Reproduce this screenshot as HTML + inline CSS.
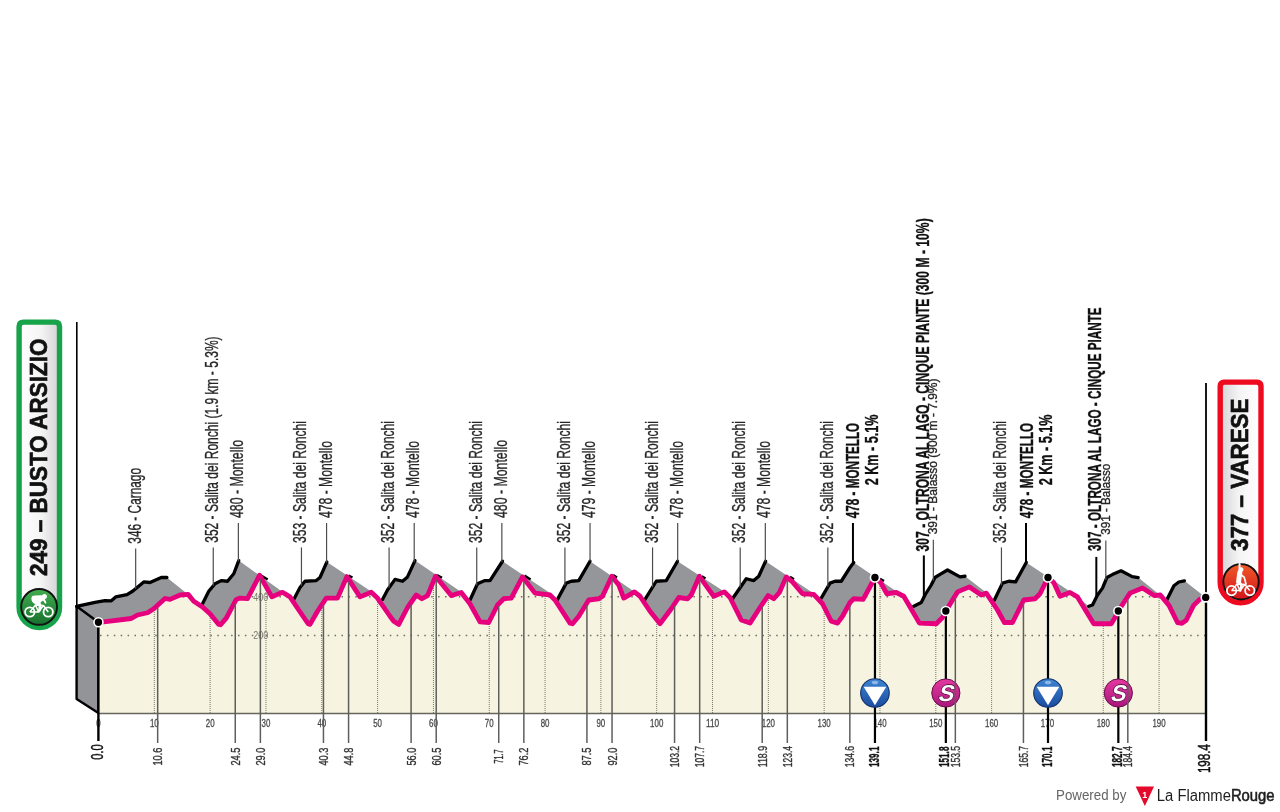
<!DOCTYPE html><html><head><meta charset="utf-8"><title>Stage profile</title><style>html,body{margin:0;padding:0;background:#fff;}svg{display:block;will-change:transform}</style></head><body>
<svg width="1280" height="812" viewBox="0 0 1280 812" font-family='"Liberation Sans", Arial, sans-serif'>
<defs><linearGradient id="gbox" x1="0" x2="1" y1="0" y2="0"><stop offset="0" stop-color="#ffffff"/><stop offset="0.55" stop-color="#f4f4f4"/><stop offset="1" stop-color="#d2d2d4"/></linearGradient><linearGradient id="rbox" x1="0" x2="1" y1="0" y2="0"><stop offset="0" stop-color="#d2d3d6"/><stop offset="0.45" stop-color="#f4f4f4"/><stop offset="1" stop-color="#ffffff"/></linearGradient><linearGradient id="gcirc" x1="0" x2="0" y1="0" y2="1"><stop offset="0" stop-color="#43ad4f"/><stop offset="1" stop-color="#16702e"/></linearGradient><linearGradient id="rcirc" x1="0" x2="0" y1="0" y2="1"><stop offset="0" stop-color="#f05a28"/><stop offset="1" stop-color="#d3141b"/></linearGradient><linearGradient id="bcirc" x1="0" x2="0" y1="0" y2="1"><stop offset="0" stop-color="#3d86d4"/><stop offset="1" stop-color="#1b4b9e"/></linearGradient><linearGradient id="pcirc" x1="0" x2="0" y1="0" y2="1"><stop offset="0" stop-color="#e4399f"/><stop offset="1" stop-color="#a9167c"/></linearGradient><clipPath id="frontclip"><polygon points="98.30,622.30 103.75,621.90 131.25,618.50 137.50,615.00 147.50,612.75 153.75,608.75 165.00,598.50 170.00,599.40 180.00,595.00 188.10,594.40 193.75,601.25 202.50,606.90 210.00,613.75 218.75,624.40 220.60,624.75 226.25,618.10 236.25,599.40 240.00,598.10 247.50,598.60 259.60,575.20 271.90,596.90 282.50,592.30 290.00,596.90 298.75,610.00 308.10,623.75 310.00,624.40 317.50,611.25 326.25,598.10 337.50,598.10 346.90,576.60 360.00,596.90 371.25,592.30 377.50,598.10 390.00,616.25 393.75,621.25 398.75,624.40 407.50,607.50 416.25,595.00 421.90,598.75 427.50,595.60 435.60,576.25 451.25,595.60 461.25,592.50 470.00,603.75 480.00,621.90 488.75,622.50 497.50,605.00 503.75,598.75 511.25,598.10 522.50,576.90 535.00,593.10 545.00,594.40 550.00,595.00 555.00,600.00 570.00,623.10 572.50,623.75 578.75,616.25 588.75,600.00 598.75,598.75 602.50,596.25 611.90,576.25 618.75,585.00 623.75,598.10 634.40,591.90 640.00,596.25 650.00,611.25 660.00,623.75 671.25,608.75 678.75,597.50 687.50,598.75 691.25,595.00 699.40,576.25 703.75,582.50 713.75,596.25 724.40,591.90 730.00,597.50 741.25,620.00 750.00,623.10 760.00,607.50 768.10,595.60 773.75,598.75 779.40,592.50 786.25,576.90 792.50,581.90 802.50,593.75 813.75,594.40 822.50,603.75 831.25,621.25 837.50,623.10 842.50,616.25 850.00,602.50 853.75,598.75 863.10,599.40 875.00,577.50 880.60,582.50 886.90,593.75 896.25,592.50 903.75,596.25 919.40,623.10 936.25,623.75 942.50,617.50 945.90,611.00 952.50,600.00 957.50,591.90 969.40,586.90 981.25,595.00 986.25,593.10 997.50,610.00 1004.40,622.50 1012.50,622.50 1023.75,600.00 1035.00,598.75 1040.00,593.75 1048.00,577.50 1053.75,582.50 1060.00,596.25 1070.00,592.50 1077.50,596.90 1093.75,623.75 1111.25,623.75 1115.00,617.50 1118.30,611.00 1126.25,598.75 1130.00,593.10 1142.50,588.00 1154.20,595.60 1160.30,595.00 1169.00,605.40 1177.60,622.70 1181.90,623.30 1186.20,620.20 1193.60,605.40 1199.80,599.30 1205.70,597.40 1205.7,713 98.3,713"/></clipPath></defs>
<line x1="76.8" y1="322" x2="76.8" y2="607" stroke="#000" stroke-width="1.6"/>
<line x1="1206" y1="383" x2="1206" y2="598" stroke="#000" stroke-width="1.8"/>
<polygon points="76.60,606.30 95.00,602.30 104.90,600.60 111.30,600.80 115.70,596.90 127.00,594.70 132.90,591.00 143.75,581.90 150.00,582.50 161.25,577.50 166.90,577.50 188.10,594.40 193.75,601.25 202.50,603.75 208.75,591.25 215.00,583.75 221.25,580.60 227.50,581.25 233.75,573.75 238.75,560.60 282.00,591.50 282.50,592.30 290.00,596.90 293.75,599.40 300.00,587.50 305.00,581.25 316.25,580.60 320.00,577.50 326.90,561.90 371.25,591.50 377.50,598.10 382.50,599.40 387.50,590.00 395.00,579.40 402.50,581.25 407.50,576.90 415.00,560.60 461.25,591.90 470.00,600.00 477.50,583.75 485.00,580.60 490.00,580.60 502.50,561.25 550.00,593.00 555.00,600.00 557.50,599.40 566.25,583.10 571.25,581.25 578.75,580.60 590.00,561.25 633.75,591.25 634.40,591.90 640.00,596.25 645.00,599.40 656.25,581.25 666.25,580.60 677.50,561.25 723.75,591.25 724.40,591.90 730.00,597.50 732.50,598.75 746.25,578.75 753.75,580.60 758.75,576.25 765.60,561.25 813.00,593.10 813.75,594.40 821.25,598.10 830.00,583.10 835.00,581.25 841.25,581.25 850.00,567.50 853.75,562.50 896.25,591.25 903.75,596.25 913.75,606.25 921.25,602.50 925.00,595.00 931.25,585.00 935.00,577.50 940.00,574.40 947.50,570.00 960.00,576.90 965.00,576.25 985.50,592.00 986.25,593.10 994.40,600.00 1002.50,583.10 1008.75,581.25 1015.60,581.90 1026.25,562.50 1070.00,591.50 1077.50,596.90 1088.75,606.25 1092.50,605.00 1097.50,595.00 1102.50,588.10 1106.90,577.50 1112.30,574.60 1121.00,570.80 1132.20,576.60 1138.20,577.60 1158.00,593.50 1160.30,595.00 1166.50,600.50 1173.90,585.70 1178.80,582.00 1184.40,580.80 1205.70,597.40 1205.70,713.00 98.50,713.00 76.60,699.00" fill="#95969a"/>
<polygon points="76.6,606.3 98.4,622.3 98.4,713 76.6,699" fill="#939498" stroke="#000" stroke-width="2.4" stroke-linejoin="round"/>
<polyline points="76.60,606.30 95.00,602.30 104.90,600.60 111.30,600.80 115.70,596.90 127.00,594.70 132.90,591.00 143.75,581.90 150.00,582.50 161.25,577.50 166.90,577.50" fill="none" stroke="#000" stroke-width="3.3" stroke-linejoin="round" stroke-linecap="round"/>
<polyline points="202.50,603.75 208.75,591.25 215.00,583.75 221.25,580.60 227.50,581.25 233.75,573.75 238.75,560.60" fill="none" stroke="#000" stroke-width="3.3" stroke-linejoin="round" stroke-linecap="round"/>
<polyline points="293.75,599.40 300.00,587.50 305.00,581.25 316.25,580.60 320.00,577.50 326.90,561.90" fill="none" stroke="#000" stroke-width="3.3" stroke-linejoin="round" stroke-linecap="round"/>
<polyline points="382.50,599.40 387.50,590.00 395.00,579.40 402.50,581.25 407.50,576.90 415.00,560.60" fill="none" stroke="#000" stroke-width="3.3" stroke-linejoin="round" stroke-linecap="round"/>
<polyline points="470.00,600.00 477.50,583.75 485.00,580.60 490.00,580.60 502.50,561.25" fill="none" stroke="#000" stroke-width="3.3" stroke-linejoin="round" stroke-linecap="round"/>
<polyline points="557.50,599.40 566.25,583.10 571.25,581.25 578.75,580.60 590.00,561.25" fill="none" stroke="#000" stroke-width="3.3" stroke-linejoin="round" stroke-linecap="round"/>
<polyline points="645.00,599.40 656.25,581.25 666.25,580.60 677.50,561.25" fill="none" stroke="#000" stroke-width="3.3" stroke-linejoin="round" stroke-linecap="round"/>
<polyline points="732.50,598.75 746.25,578.75 753.75,580.60 758.75,576.25 765.60,561.25" fill="none" stroke="#000" stroke-width="3.3" stroke-linejoin="round" stroke-linecap="round"/>
<polyline points="821.25,598.10 830.00,583.10 835.00,581.25 841.25,581.25 850.00,567.50 853.75,562.50" fill="none" stroke="#000" stroke-width="3.3" stroke-linejoin="round" stroke-linecap="round"/>
<polyline points="913.75,606.25 921.25,602.50 925.00,595.00 931.25,585.00 935.00,577.50 940.00,574.40 947.50,570.00 960.00,576.90 965.00,576.25" fill="none" stroke="#000" stroke-width="3.3" stroke-linejoin="round" stroke-linecap="round"/>
<polyline points="994.40,600.00 1002.50,583.10 1008.75,581.25 1015.60,581.90 1026.25,562.50" fill="none" stroke="#000" stroke-width="3.3" stroke-linejoin="round" stroke-linecap="round"/>
<polyline points="1088.75,606.25 1092.50,605.00 1097.50,595.00 1102.50,588.10 1106.90,577.50 1112.30,574.60 1121.00,570.80 1132.20,576.60 1138.20,577.60" fill="none" stroke="#000" stroke-width="3.3" stroke-linejoin="round" stroke-linecap="round"/>
<polyline points="1166.50,600.50 1173.90,585.70 1178.80,582.00 1184.40,580.80" fill="none" stroke="#000" stroke-width="3.3" stroke-linejoin="round" stroke-linecap="round"/>
<polyline points="259.60,574.60 267.70,579.60" fill="none" stroke="#000" stroke-width="2.4" stroke-linecap="butt"/>
<polyline points="348.50,575.50 352.50,577.50" fill="none" stroke="#000" stroke-width="2.4" stroke-linecap="butt"/>
<polyline points="437.00,575.00 442.00,577.80" fill="none" stroke="#000" stroke-width="2.4" stroke-linecap="butt"/>
<polyline points="524.50,575.50 530.60,579.40" fill="none" stroke="#000" stroke-width="2.4" stroke-linecap="butt"/>
<polyline points="613.10,575.00 617.00,577.50" fill="none" stroke="#000" stroke-width="2.4" stroke-linecap="butt"/>
<polyline points="701.90,576.25 705.50,578.50" fill="none" stroke="#000" stroke-width="2.4" stroke-linecap="butt"/>
<polyline points="790.00,576.90 794.00,579.20" fill="none" stroke="#000" stroke-width="2.4" stroke-linecap="butt"/>
<polyline points="880.00,578.75 884.00,581.00" fill="none" stroke="#000" stroke-width="2.4" stroke-linecap="butt"/>
<polygon points="98.30,622.30 103.75,621.90 131.25,618.50 137.50,615.00 147.50,612.75 153.75,608.75 165.00,598.50 170.00,599.40 180.00,595.00 188.10,594.40 193.75,601.25 202.50,606.90 210.00,613.75 218.75,624.40 220.60,624.75 226.25,618.10 236.25,599.40 240.00,598.10 247.50,598.60 259.60,575.20 271.90,596.90 282.50,592.30 290.00,596.90 298.75,610.00 308.10,623.75 310.00,624.40 317.50,611.25 326.25,598.10 337.50,598.10 346.90,576.60 360.00,596.90 371.25,592.30 377.50,598.10 390.00,616.25 393.75,621.25 398.75,624.40 407.50,607.50 416.25,595.00 421.90,598.75 427.50,595.60 435.60,576.25 451.25,595.60 461.25,592.50 470.00,603.75 480.00,621.90 488.75,622.50 497.50,605.00 503.75,598.75 511.25,598.10 522.50,576.90 535.00,593.10 545.00,594.40 550.00,595.00 555.00,600.00 570.00,623.10 572.50,623.75 578.75,616.25 588.75,600.00 598.75,598.75 602.50,596.25 611.90,576.25 618.75,585.00 623.75,598.10 634.40,591.90 640.00,596.25 650.00,611.25 660.00,623.75 671.25,608.75 678.75,597.50 687.50,598.75 691.25,595.00 699.40,576.25 703.75,582.50 713.75,596.25 724.40,591.90 730.00,597.50 741.25,620.00 750.00,623.10 760.00,607.50 768.10,595.60 773.75,598.75 779.40,592.50 786.25,576.90 792.50,581.90 802.50,593.75 813.75,594.40 822.50,603.75 831.25,621.25 837.50,623.10 842.50,616.25 850.00,602.50 853.75,598.75 863.10,599.40 875.00,577.50 880.60,582.50 886.90,593.75 896.25,592.50 903.75,596.25 919.40,623.10 936.25,623.75 942.50,617.50 945.90,611.00 952.50,600.00 957.50,591.90 969.40,586.90 981.25,595.00 986.25,593.10 997.50,610.00 1004.40,622.50 1012.50,622.50 1023.75,600.00 1035.00,598.75 1040.00,593.75 1048.00,577.50 1053.75,582.50 1060.00,596.25 1070.00,592.50 1077.50,596.90 1093.75,623.75 1111.25,623.75 1115.00,617.50 1118.30,611.00 1126.25,598.75 1130.00,593.10 1142.50,588.00 1154.20,595.60 1160.30,595.00 1169.00,605.40 1177.60,622.70 1181.90,623.30 1186.20,620.20 1193.60,605.40 1199.80,599.30 1205.70,597.40 1205.7,713 98.4,713" fill="#f6f4e1"/>
<g clip-path="url(#frontclip)">
<line x1="100" y1="596.8" x2="1206" y2="596.8" stroke="#6e6e64" stroke-width="1.5" stroke-dasharray="1.5 5.4"/>
<line x1="100" y1="635.4" x2="1206" y2="635.4" stroke="#6e6e64" stroke-width="1.5" stroke-dasharray="1.5 5.4"/>
<line x1="154.32" y1="560" x2="154.32" y2="713" stroke="#77776d" stroke-width="1" stroke-dasharray="1 1"/>
<line x1="210.14" y1="560" x2="210.14" y2="713" stroke="#77776d" stroke-width="1" stroke-dasharray="1 1"/>
<line x1="265.96" y1="560" x2="265.96" y2="713" stroke="#77776d" stroke-width="1" stroke-dasharray="1 1"/>
<line x1="321.78" y1="560" x2="321.78" y2="713" stroke="#77776d" stroke-width="1" stroke-dasharray="1 1"/>
<line x1="377.60" y1="560" x2="377.60" y2="713" stroke="#77776d" stroke-width="1" stroke-dasharray="1 1"/>
<line x1="433.42" y1="560" x2="433.42" y2="713" stroke="#77776d" stroke-width="1" stroke-dasharray="1 1"/>
<line x1="489.24" y1="560" x2="489.24" y2="713" stroke="#77776d" stroke-width="1" stroke-dasharray="1 1"/>
<line x1="545.06" y1="560" x2="545.06" y2="713" stroke="#77776d" stroke-width="1" stroke-dasharray="1 1"/>
<line x1="600.88" y1="560" x2="600.88" y2="713" stroke="#77776d" stroke-width="1" stroke-dasharray="1 1"/>
<line x1="656.70" y1="560" x2="656.70" y2="713" stroke="#77776d" stroke-width="1" stroke-dasharray="1 1"/>
<line x1="712.52" y1="560" x2="712.52" y2="713" stroke="#77776d" stroke-width="1" stroke-dasharray="1 1"/>
<line x1="768.34" y1="560" x2="768.34" y2="713" stroke="#77776d" stroke-width="1" stroke-dasharray="1 1"/>
<line x1="824.16" y1="560" x2="824.16" y2="713" stroke="#77776d" stroke-width="1" stroke-dasharray="1 1"/>
<line x1="879.98" y1="560" x2="879.98" y2="713" stroke="#77776d" stroke-width="1" stroke-dasharray="1 1"/>
<line x1="935.80" y1="560" x2="935.80" y2="713" stroke="#77776d" stroke-width="1" stroke-dasharray="1 1"/>
<line x1="991.62" y1="560" x2="991.62" y2="713" stroke="#77776d" stroke-width="1" stroke-dasharray="1 1"/>
<line x1="1047.44" y1="560" x2="1047.44" y2="713" stroke="#77776d" stroke-width="1" stroke-dasharray="1 1"/>
<line x1="1103.26" y1="560" x2="1103.26" y2="713" stroke="#77776d" stroke-width="1" stroke-dasharray="1 1"/>
<line x1="1159.08" y1="560" x2="1159.08" y2="713" stroke="#77776d" stroke-width="1" stroke-dasharray="1 1"/>
<text x="260.7" y="600.8" font-size="11" fill="#7a7a72" text-anchor="middle" textLength="15" lengthAdjust="spacingAndGlyphs">400</text>
<text x="260.7" y="639.2" font-size="11" fill="#7a7a72" text-anchor="middle" textLength="15" lengthAdjust="spacingAndGlyphs">200</text>
</g>
<line x1="98.4" y1="713.5" x2="1206" y2="713.5" stroke="#66665e" stroke-width="1.6"/>
<text x="98.50" y="727" font-size="11.5" fill="#484848" stroke="#484848" stroke-width="0.3" text-anchor="middle" textLength="4.4" lengthAdjust="spacingAndGlyphs">0</text>
<text x="154.32" y="727" font-size="11.5" fill="#484848" stroke="#484848" stroke-width="0.3" text-anchor="middle" textLength="8.8" lengthAdjust="spacingAndGlyphs">10</text>
<text x="210.14" y="727" font-size="11.5" fill="#484848" stroke="#484848" stroke-width="0.3" text-anchor="middle" textLength="8.8" lengthAdjust="spacingAndGlyphs">20</text>
<text x="265.96" y="727" font-size="11.5" fill="#484848" stroke="#484848" stroke-width="0.3" text-anchor="middle" textLength="8.8" lengthAdjust="spacingAndGlyphs">30</text>
<text x="321.78" y="727" font-size="11.5" fill="#484848" stroke="#484848" stroke-width="0.3" text-anchor="middle" textLength="8.8" lengthAdjust="spacingAndGlyphs">40</text>
<text x="377.60" y="727" font-size="11.5" fill="#484848" stroke="#484848" stroke-width="0.3" text-anchor="middle" textLength="8.8" lengthAdjust="spacingAndGlyphs">50</text>
<text x="433.42" y="727" font-size="11.5" fill="#484848" stroke="#484848" stroke-width="0.3" text-anchor="middle" textLength="8.8" lengthAdjust="spacingAndGlyphs">60</text>
<text x="489.24" y="727" font-size="11.5" fill="#484848" stroke="#484848" stroke-width="0.3" text-anchor="middle" textLength="8.8" lengthAdjust="spacingAndGlyphs">70</text>
<text x="545.06" y="727" font-size="11.5" fill="#484848" stroke="#484848" stroke-width="0.3" text-anchor="middle" textLength="8.8" lengthAdjust="spacingAndGlyphs">80</text>
<text x="600.88" y="727" font-size="11.5" fill="#484848" stroke="#484848" stroke-width="0.3" text-anchor="middle" textLength="8.8" lengthAdjust="spacingAndGlyphs">90</text>
<text x="656.70" y="727" font-size="11.5" fill="#484848" stroke="#484848" stroke-width="0.3" text-anchor="middle" textLength="13.2" lengthAdjust="spacingAndGlyphs">100</text>
<text x="712.52" y="727" font-size="11.5" fill="#484848" stroke="#484848" stroke-width="0.3" text-anchor="middle" textLength="13.2" lengthAdjust="spacingAndGlyphs">110</text>
<text x="768.34" y="727" font-size="11.5" fill="#484848" stroke="#484848" stroke-width="0.3" text-anchor="middle" textLength="13.2" lengthAdjust="spacingAndGlyphs">120</text>
<text x="824.16" y="727" font-size="11.5" fill="#484848" stroke="#484848" stroke-width="0.3" text-anchor="middle" textLength="13.2" lengthAdjust="spacingAndGlyphs">130</text>
<text x="879.98" y="727" font-size="11.5" fill="#484848" stroke="#484848" stroke-width="0.3" text-anchor="middle" textLength="13.2" lengthAdjust="spacingAndGlyphs">140</text>
<text x="935.80" y="727" font-size="11.5" fill="#484848" stroke="#484848" stroke-width="0.3" text-anchor="middle" textLength="13.2" lengthAdjust="spacingAndGlyphs">150</text>
<text x="991.62" y="727" font-size="11.5" fill="#484848" stroke="#484848" stroke-width="0.3" text-anchor="middle" textLength="13.2" lengthAdjust="spacingAndGlyphs">160</text>
<text x="1047.44" y="727" font-size="11.5" fill="#484848" stroke="#484848" stroke-width="0.3" text-anchor="middle" textLength="13.2" lengthAdjust="spacingAndGlyphs">170</text>
<text x="1103.26" y="727" font-size="11.5" fill="#484848" stroke="#484848" stroke-width="0.3" text-anchor="middle" textLength="13.2" lengthAdjust="spacingAndGlyphs">180</text>
<text x="1159.08" y="727" font-size="11.5" fill="#484848" stroke="#484848" stroke-width="0.3" text-anchor="middle" textLength="13.2" lengthAdjust="spacingAndGlyphs">190</text>
<line x1="874.96" y1="577.58" x2="874.96" y2="743" stroke="#000" stroke-width="2.2"/>
<line x1="945.85" y1="611.10" x2="945.85" y2="743" stroke="#000" stroke-width="2.2"/>
<line x1="1048.00" y1="577.50" x2="1048.00" y2="743" stroke="#000" stroke-width="2.2"/>
<line x1="1118.33" y1="610.95" x2="1118.33" y2="743" stroke="#000" stroke-width="2.2"/>
<line x1="98.4" y1="622" x2="98.4" y2="741" stroke="#000" stroke-width="2.4"/>
<line x1="1206" y1="597" x2="1206" y2="741" stroke="#000" stroke-width="2.4"/>
<polyline points="98.30,622.30 103.75,621.90 131.25,618.50 137.50,615.00 147.50,612.75 153.75,608.75 165.00,598.50 170.00,599.40 180.00,595.00 188.10,594.40 193.75,601.25 202.50,606.90 210.00,613.75 218.75,624.40 220.60,624.75 226.25,618.10 236.25,599.40 240.00,598.10 247.50,598.60 259.60,575.20 271.90,596.90 282.50,592.30 290.00,596.90 298.75,610.00 308.10,623.75 310.00,624.40 317.50,611.25 326.25,598.10 337.50,598.10 346.90,576.60 360.00,596.90 371.25,592.30 377.50,598.10 390.00,616.25 393.75,621.25 398.75,624.40 407.50,607.50 416.25,595.00 421.90,598.75 427.50,595.60 435.60,576.25 451.25,595.60 461.25,592.50 470.00,603.75 480.00,621.90 488.75,622.50 497.50,605.00 503.75,598.75 511.25,598.10 522.50,576.90 535.00,593.10 545.00,594.40 550.00,595.00 555.00,600.00 570.00,623.10 572.50,623.75 578.75,616.25 588.75,600.00 598.75,598.75 602.50,596.25 611.90,576.25 618.75,585.00 623.75,598.10 634.40,591.90 640.00,596.25 650.00,611.25 660.00,623.75 671.25,608.75 678.75,597.50 687.50,598.75 691.25,595.00 699.40,576.25 703.75,582.50 713.75,596.25 724.40,591.90 730.00,597.50 741.25,620.00 750.00,623.10 760.00,607.50 768.10,595.60 773.75,598.75 779.40,592.50 786.25,576.90 792.50,581.90 802.50,593.75 813.75,594.40 822.50,603.75 831.25,621.25 837.50,623.10 842.50,616.25 850.00,602.50 853.75,598.75 863.10,599.40 875.00,577.50 880.60,582.50 886.90,593.75 896.25,592.50 903.75,596.25 919.40,623.10 936.25,623.75 942.50,617.50 945.90,611.00 952.50,600.00 957.50,591.90 969.40,586.90 981.25,595.00 986.25,593.10 997.50,610.00 1004.40,622.50 1012.50,622.50 1023.75,600.00 1035.00,598.75 1040.00,593.75 1048.00,577.50 1053.75,582.50 1060.00,596.25 1070.00,592.50 1077.50,596.90 1093.75,623.75 1111.25,623.75 1115.00,617.50 1118.30,611.00 1126.25,598.75 1130.00,593.10 1142.50,588.00 1154.20,595.60 1160.30,595.00 1169.00,605.40 1177.60,622.70 1181.90,623.30 1186.20,620.20 1193.60,605.40 1199.80,599.30 1205.70,597.40" fill="none" stroke="#e6007e" stroke-width="4.8" stroke-linejoin="round" stroke-linecap="round"/>
<circle cx="98.45" cy="622.20" r="4.5" fill="#000" stroke="#fff" stroke-width="1.6"/>
<circle cx="874.96" cy="577.50" r="4.5" fill="#000" stroke="#fff" stroke-width="1.6"/>
<circle cx="945.85" cy="611.00" r="4.5" fill="#000" stroke="#fff" stroke-width="1.6"/>
<circle cx="1048.00" cy="577.50" r="4.5" fill="#000" stroke="#fff" stroke-width="1.6"/>
<circle cx="1118.33" cy="611.00" r="4.5" fill="#000" stroke="#fff" stroke-width="1.6"/>
<circle cx="1205.70" cy="597.40" r="4.5" fill="#000" stroke="#fff" stroke-width="1.6"/>
<g><circle cx="874.96" cy="693.00" r="14.3" fill="url(#bcirc)" stroke="#14306a" stroke-width="1.1"/><ellipse cx="874.96" cy="682.50" rx="3.2" ry="1.8" fill="#8fb6e6"/><polygon points="863.66,686.80 886.26,686.80 874.96,705.20" fill="#fff"/></g>
<g><circle cx="1048.00" cy="693.00" r="14.3" fill="url(#bcirc)" stroke="#14306a" stroke-width="1.1"/><ellipse cx="1048.00" cy="682.50" rx="3.2" ry="1.8" fill="#8fb6e6"/><polygon points="1036.70,686.80 1059.30,686.80 1048.00,705.20" fill="#fff"/></g>
<g><circle cx="945.85" cy="693.00" r="14.1" fill="url(#pcirc)" stroke="#6a0d4c" stroke-width="1"/><text transform="translate(945.05,701.20) skewX(-14)" font-size="23" font-weight="bold" fill="#fff" stroke="#3e0830" stroke-width="1.2" paint-order="stroke" text-anchor="middle">S</text></g>
<g><circle cx="1118.33" cy="693.00" r="14.1" fill="url(#pcirc)" stroke="#6a0d4c" stroke-width="1"/><text transform="translate(1117.53,701.20) skewX(-14)" font-size="23" font-weight="bold" fill="#fff" stroke="#3e0830" stroke-width="1.2" paint-order="stroke" text-anchor="middle">S</text></g>
<line x1="157.67" y1="607.58" x2="157.67" y2="743" stroke="#5e5e5a" stroke-width="1.5"/>
<line x1="235.26" y1="603.65" x2="235.26" y2="743" stroke="#5e5e5a" stroke-width="1.5"/>
<line x1="260.38" y1="578.97" x2="260.38" y2="743" stroke="#5e5e5a" stroke-width="1.5"/>
<line x1="323.45" y1="604.70" x2="323.45" y2="743" stroke="#5e5e5a" stroke-width="1.5"/>
<line x1="348.57" y1="581.59" x2="348.57" y2="743" stroke="#5e5e5a" stroke-width="1.5"/>
<line x1="411.09" y1="604.77" x2="411.09" y2="743" stroke="#5e5e5a" stroke-width="1.5"/>
<line x1="436.21" y1="579.41" x2="436.21" y2="743" stroke="#5e5e5a" stroke-width="1.5"/>
<line x1="498.73" y1="606.17" x2="498.73" y2="743" stroke="#5e5e5a" stroke-width="1.5"/>
<line x1="523.85" y1="581.05" x2="523.85" y2="743" stroke="#5e5e5a" stroke-width="1.5"/>
<line x1="586.92" y1="605.37" x2="586.92" y2="743" stroke="#5e5e5a" stroke-width="1.5"/>
<line x1="612.04" y1="578.83" x2="612.04" y2="743" stroke="#5e5e5a" stroke-width="1.5"/>
<line x1="674.56" y1="606.18" x2="674.56" y2="743" stroke="#5e5e5a" stroke-width="1.5"/>
<line x1="699.68" y1="579.05" x2="699.68" y2="743" stroke="#5e5e5a" stroke-width="1.5"/>
<line x1="762.20" y1="606.67" x2="762.20" y2="743" stroke="#5e5e5a" stroke-width="1.5"/>
<line x1="787.32" y1="580.16" x2="787.32" y2="743" stroke="#5e5e5a" stroke-width="1.5"/>
<line x1="849.84" y1="605.20" x2="849.84" y2="743" stroke="#5e5e5a" stroke-width="1.5"/>
<line x1="955.34" y1="597.80" x2="955.34" y2="743" stroke="#5e5e5a" stroke-width="1.5"/>
<line x1="1023.44" y1="603.03" x2="1023.44" y2="743" stroke="#5e5e5a" stroke-width="1.5"/>
<line x1="1127.82" y1="598.78" x2="1127.82" y2="743" stroke="#5e5e5a" stroke-width="1.5"/>
<text transform="translate(162.17,756.60) rotate(-90)" font-size="12.5" font-weight="normal" fill="#333" stroke="#333" stroke-width="0.35" text-anchor="middle" textLength="18.0" lengthAdjust="spacingAndGlyphs">10.6</text>
<text transform="translate(239.76,756.60) rotate(-90)" font-size="12.5" font-weight="normal" fill="#333" stroke="#333" stroke-width="0.35" text-anchor="middle" textLength="18.0" lengthAdjust="spacingAndGlyphs">24.5</text>
<text transform="translate(264.88,756.60) rotate(-90)" font-size="12.5" font-weight="normal" fill="#333" stroke="#333" stroke-width="0.35" text-anchor="middle" textLength="18.0" lengthAdjust="spacingAndGlyphs">29.0</text>
<text transform="translate(327.95,756.60) rotate(-90)" font-size="12.5" font-weight="normal" fill="#333" stroke="#333" stroke-width="0.35" text-anchor="middle" textLength="18.0" lengthAdjust="spacingAndGlyphs">40.3</text>
<text transform="translate(353.07,756.60) rotate(-90)" font-size="12.5" font-weight="normal" fill="#333" stroke="#333" stroke-width="0.35" text-anchor="middle" textLength="18.0" lengthAdjust="spacingAndGlyphs">44.8</text>
<text transform="translate(415.59,756.60) rotate(-90)" font-size="12.5" font-weight="normal" fill="#333" stroke="#333" stroke-width="0.35" text-anchor="middle" textLength="18.0" lengthAdjust="spacingAndGlyphs">56.0</text>
<text transform="translate(440.71,756.60) rotate(-90)" font-size="12.5" font-weight="normal" fill="#333" stroke="#333" stroke-width="0.35" text-anchor="middle" textLength="18.0" lengthAdjust="spacingAndGlyphs">60.5</text>
<text transform="translate(503.23,756.60) rotate(-90)" font-size="12.5" font-weight="normal" fill="#333" stroke="#333" stroke-width="0.35" text-anchor="middle" textLength="14.0" lengthAdjust="spacingAndGlyphs">71.7</text>
<text transform="translate(528.35,756.60) rotate(-90)" font-size="12.5" font-weight="normal" fill="#333" stroke="#333" stroke-width="0.35" text-anchor="middle" textLength="18.0" lengthAdjust="spacingAndGlyphs">76.2</text>
<text transform="translate(591.42,756.60) rotate(-90)" font-size="12.5" font-weight="normal" fill="#333" stroke="#333" stroke-width="0.35" text-anchor="middle" textLength="18.0" lengthAdjust="spacingAndGlyphs">87.5</text>
<text transform="translate(616.54,756.60) rotate(-90)" font-size="12.5" font-weight="normal" fill="#333" stroke="#333" stroke-width="0.35" text-anchor="middle" textLength="18.0" lengthAdjust="spacingAndGlyphs">92.0</text>
<text transform="translate(679.06,756.60) rotate(-90)" font-size="12.5" font-weight="normal" fill="#333" stroke="#333" stroke-width="0.35" text-anchor="middle" textLength="21.5" lengthAdjust="spacingAndGlyphs">103.2</text>
<text transform="translate(704.18,756.60) rotate(-90)" font-size="12.5" font-weight="normal" fill="#333" stroke="#333" stroke-width="0.35" text-anchor="middle" textLength="21.5" lengthAdjust="spacingAndGlyphs">107.7</text>
<text transform="translate(766.70,756.60) rotate(-90)" font-size="12.5" font-weight="normal" fill="#333" stroke="#333" stroke-width="0.35" text-anchor="middle" textLength="21.5" lengthAdjust="spacingAndGlyphs">118.9</text>
<text transform="translate(791.82,756.60) rotate(-90)" font-size="12.5" font-weight="normal" fill="#333" stroke="#333" stroke-width="0.35" text-anchor="middle" textLength="21.5" lengthAdjust="spacingAndGlyphs">123.4</text>
<text transform="translate(854.34,756.60) rotate(-90)" font-size="12.5" font-weight="normal" fill="#333" stroke="#333" stroke-width="0.35" text-anchor="middle" textLength="21.5" lengthAdjust="spacingAndGlyphs">134.6</text>
<text transform="translate(959.84,756.60) rotate(-90)" font-size="12.5" font-weight="normal" fill="#333" stroke="#333" stroke-width="0.35" text-anchor="middle" textLength="21.5" lengthAdjust="spacingAndGlyphs">153.5</text>
<text transform="translate(1027.94,756.60) rotate(-90)" font-size="12.5" font-weight="normal" fill="#333" stroke="#333" stroke-width="0.35" text-anchor="middle" textLength="21.5" lengthAdjust="spacingAndGlyphs">165.7</text>
<text transform="translate(1132.32,756.60) rotate(-90)" font-size="12.5" font-weight="normal" fill="#333" stroke="#333" stroke-width="0.35" text-anchor="middle" textLength="21.5" lengthAdjust="spacingAndGlyphs">184.4</text>
<text transform="translate(878.56,756.80) rotate(-90)" font-size="15.0" font-weight="bold" fill="#111" stroke="#111" stroke-width="0.35" text-anchor="middle" textLength="20.5" lengthAdjust="spacingAndGlyphs">139.1</text>
<text transform="translate(949.45,756.80) rotate(-90)" font-size="15.0" font-weight="bold" fill="#111" stroke="#111" stroke-width="0.35" text-anchor="middle" textLength="20.5" lengthAdjust="spacingAndGlyphs">151.8</text>
<text transform="translate(1051.60,756.80) rotate(-90)" font-size="15.0" font-weight="bold" fill="#111" stroke="#111" stroke-width="0.35" text-anchor="middle" textLength="20.5" lengthAdjust="spacingAndGlyphs">170.1</text>
<text transform="translate(1121.93,756.80) rotate(-90)" font-size="15.0" font-weight="bold" fill="#111" stroke="#111" stroke-width="0.35" text-anchor="middle" textLength="20.5" lengthAdjust="spacingAndGlyphs">182.7</text>
<text transform="translate(102.60,759.80) rotate(-90)" font-size="16.8" font-weight="normal" fill="#111" stroke="#111" stroke-width="0.50" text-anchor="start" textLength="15.6" lengthAdjust="spacingAndGlyphs">0.0</text>
<text transform="translate(1210.20,773.10) rotate(-90)" font-size="16.4" font-weight="normal" fill="#111" stroke="#111" stroke-width="0.50" text-anchor="start" textLength="29.0" lengthAdjust="spacingAndGlyphs">198.4</text>
<text transform="translate(140.67,543.70) rotate(-90)" font-size="19.0" font-weight="normal" fill="#262626" stroke="#262626" stroke-width="0.35" text-anchor="start" textLength="75.7" lengthAdjust="spacingAndGlyphs">346 - Carnago</text>
<line x1="135.67" y1="548.6" x2="135.67" y2="588.68" stroke="#4d4d4d" stroke-width="1.2"/>
<text transform="translate(218.26,542.80) rotate(-90)" font-size="19.0" font-weight="normal" fill="#262626" stroke="#262626" stroke-width="0.35" text-anchor="start" textLength="206.4" lengthAdjust="spacingAndGlyphs">352 - Salita dei Ronchi (1.9 km - 5.3%)</text>
<line x1="213.26" y1="547.4" x2="213.26" y2="585.84" stroke="#4d4d4d" stroke-width="1.2"/>
<text transform="translate(243.38,518.00) rotate(-90)" font-size="19.0" font-weight="normal" fill="#262626" stroke="#262626" stroke-width="0.35" text-anchor="start" textLength="78.0" lengthAdjust="spacingAndGlyphs">480 - Montello</text>
<line x1="238.38" y1="523.0" x2="238.38" y2="561.58" stroke="#4d4d4d" stroke-width="1.2"/>
<text transform="translate(306.45,543.00) rotate(-90)" font-size="19.0" font-weight="normal" fill="#262626" stroke="#262626" stroke-width="0.35" text-anchor="start" textLength="122.0" lengthAdjust="spacingAndGlyphs">353 - Salita dei Ronchi</text>
<line x1="301.45" y1="547.4" x2="301.45" y2="585.68" stroke="#4d4d4d" stroke-width="1.2"/>
<text transform="translate(331.57,518.00) rotate(-90)" font-size="19.0" font-weight="normal" fill="#262626" stroke="#262626" stroke-width="0.35" text-anchor="start" textLength="77.0" lengthAdjust="spacingAndGlyphs">478 - Montello</text>
<line x1="326.57" y1="523.0" x2="326.57" y2="562.64" stroke="#4d4d4d" stroke-width="1.2"/>
<text transform="translate(394.09,543.00) rotate(-90)" font-size="19.0" font-weight="normal" fill="#262626" stroke="#262626" stroke-width="0.35" text-anchor="start" textLength="122.0" lengthAdjust="spacingAndGlyphs">352 - Salita dei Ronchi</text>
<line x1="389.09" y1="547.4" x2="389.09" y2="587.75" stroke="#4d4d4d" stroke-width="1.2"/>
<text transform="translate(419.21,518.00) rotate(-90)" font-size="19.0" font-weight="normal" fill="#262626" stroke="#262626" stroke-width="0.35" text-anchor="start" textLength="77.0" lengthAdjust="spacingAndGlyphs">478 - Montello</text>
<line x1="414.21" y1="523.0" x2="414.21" y2="562.31" stroke="#4d4d4d" stroke-width="1.2"/>
<text transform="translate(481.73,543.00) rotate(-90)" font-size="19.0" font-weight="normal" fill="#262626" stroke="#262626" stroke-width="0.35" text-anchor="start" textLength="122.0" lengthAdjust="spacingAndGlyphs">352 - Salita dei Ronchi</text>
<line x1="476.73" y1="547.4" x2="476.73" y2="585.42" stroke="#4d4d4d" stroke-width="1.2"/>
<text transform="translate(506.85,518.00) rotate(-90)" font-size="19.0" font-weight="normal" fill="#262626" stroke="#262626" stroke-width="0.35" text-anchor="start" textLength="78.0" lengthAdjust="spacingAndGlyphs">480 - Montello</text>
<line x1="501.85" y1="523.0" x2="501.85" y2="562.26" stroke="#4d4d4d" stroke-width="1.2"/>
<text transform="translate(569.92,543.00) rotate(-90)" font-size="19.0" font-weight="normal" fill="#262626" stroke="#262626" stroke-width="0.35" text-anchor="start" textLength="122.0" lengthAdjust="spacingAndGlyphs">352 - Salita dei Ronchi</text>
<line x1="564.92" y1="547.4" x2="564.92" y2="585.57" stroke="#4d4d4d" stroke-width="1.2"/>
<text transform="translate(595.04,518.00) rotate(-90)" font-size="19.0" font-weight="normal" fill="#262626" stroke="#262626" stroke-width="0.35" text-anchor="start" textLength="77.0" lengthAdjust="spacingAndGlyphs">479 - Montello</text>
<line x1="590.04" y1="523.0" x2="590.04" y2="561.28" stroke="#4d4d4d" stroke-width="1.2"/>
<text transform="translate(657.56,543.00) rotate(-90)" font-size="19.0" font-weight="normal" fill="#262626" stroke="#262626" stroke-width="0.35" text-anchor="start" textLength="122.0" lengthAdjust="spacingAndGlyphs">352 - Salita dei Ronchi</text>
<line x1="652.56" y1="547.4" x2="652.56" y2="587.20" stroke="#4d4d4d" stroke-width="1.2"/>
<text transform="translate(682.68,518.00) rotate(-90)" font-size="19.0" font-weight="normal" fill="#262626" stroke="#262626" stroke-width="0.35" text-anchor="start" textLength="77.0" lengthAdjust="spacingAndGlyphs">478 - Montello</text>
<line x1="677.68" y1="523.0" x2="677.68" y2="561.37" stroke="#4d4d4d" stroke-width="1.2"/>
<text transform="translate(745.20,543.00) rotate(-90)" font-size="19.0" font-weight="normal" fill="#262626" stroke="#262626" stroke-width="0.35" text-anchor="start" textLength="122.0" lengthAdjust="spacingAndGlyphs">352 - Salita dei Ronchi</text>
<line x1="740.20" y1="547.4" x2="740.20" y2="587.55" stroke="#4d4d4d" stroke-width="1.2"/>
<text transform="translate(770.32,518.00) rotate(-90)" font-size="19.0" font-weight="normal" fill="#262626" stroke="#262626" stroke-width="0.35" text-anchor="start" textLength="77.0" lengthAdjust="spacingAndGlyphs">478 - Montello</text>
<line x1="765.32" y1="523.0" x2="765.32" y2="561.87" stroke="#4d4d4d" stroke-width="1.2"/>
<text transform="translate(832.84,543.00) rotate(-90)" font-size="19.0" font-weight="normal" fill="#262626" stroke="#262626" stroke-width="0.35" text-anchor="start" textLength="122.0" lengthAdjust="spacingAndGlyphs">352 - Salita dei Ronchi</text>
<line x1="827.84" y1="547.4" x2="827.84" y2="586.81" stroke="#4d4d4d" stroke-width="1.2"/>
<text transform="translate(1006.44,543.00) rotate(-90)" font-size="19.0" font-weight="normal" fill="#262626" stroke="#262626" stroke-width="0.35" text-anchor="start" textLength="122.0" lengthAdjust="spacingAndGlyphs">352 - Salita dei Ronchi</text>
<line x1="1001.44" y1="547.4" x2="1001.44" y2="585.32" stroke="#4d4d4d" stroke-width="1.2"/>
<text transform="translate(859.46,518.20) rotate(-90)" font-size="18.5" font-weight="bold" fill="#111" stroke="#111" stroke-width="0.35" text-anchor="start" textLength="95.4" lengthAdjust="spacingAndGlyphs">478 - MONTELLO</text>
<text transform="translate(878.46,485.30) rotate(-90)" font-size="18.5" font-weight="bold" fill="#111" stroke="#111" stroke-width="0.35" text-anchor="start" textLength="70.9" lengthAdjust="spacingAndGlyphs">2 Km - 5.1%</text>
<line x1="852.96" y1="523" x2="852.96" y2="563.56" stroke="#000" stroke-width="2"/>
<text transform="translate(1032.50,518.20) rotate(-90)" font-size="18.5" font-weight="bold" fill="#111" stroke="#111" stroke-width="0.35" text-anchor="start" textLength="95.4" lengthAdjust="spacingAndGlyphs">478 - MONTELLO</text>
<text transform="translate(1051.50,485.30) rotate(-90)" font-size="18.5" font-weight="bold" fill="#111" stroke="#111" stroke-width="0.35" text-anchor="start" textLength="70.9" lengthAdjust="spacingAndGlyphs">2 Km - 5.1%</text>
<line x1="1026.00" y1="523" x2="1026.00" y2="562.96" stroke="#000" stroke-width="2"/>
<text transform="translate(928.85,551.50) rotate(-90)" font-size="18.5" font-weight="bold" fill="#111" stroke="#111" stroke-width="0.35" text-anchor="start" textLength="333.2" lengthAdjust="spacingAndGlyphs">307 - OLTRONA AL LAGO - CINQUE PIANTE (300 M - 10%)</text>
<line x1="923.85" y1="555.4" x2="923.85" y2="597.30" stroke="#000" stroke-width="2"/>
<text transform="translate(937.34,534.30) rotate(-90)" font-size="13.5" font-weight="normal" fill="#262626" stroke="#262626" stroke-width="0.35" text-anchor="start" textLength="155.8" lengthAdjust="spacingAndGlyphs">391 - Balasso (900 m - 7.9%)</text>
<line x1="933.34" y1="539.8" x2="933.34" y2="580.83" stroke="#4d4d4d" stroke-width="1.2"/>
<text transform="translate(1101.33,551.00) rotate(-90)" font-size="18.5" font-weight="bold" fill="#111" stroke="#111" stroke-width="0.35" text-anchor="start" textLength="243.6" lengthAdjust="spacingAndGlyphs">307 - OLTRONA AL LAGO - CINQUE PIANTE</text>
<line x1="1096.33" y1="556.9" x2="1096.33" y2="597.34" stroke="#000" stroke-width="2"/>
<text transform="translate(1109.82,534.70) rotate(-90)" font-size="13.5" font-weight="normal" fill="#262626" stroke="#262626" stroke-width="0.35" text-anchor="start" textLength="71.0" lengthAdjust="spacingAndGlyphs">391 - Balasso</text>
<line x1="1105.82" y1="540.6" x2="1105.82" y2="580.10" stroke="#4d4d4d" stroke-width="1.2"/>
<path d="M19.1,326.5 Q19.1,322.1 23.5,322.1 L55.1,322.1 Q59.5,322.1 59.5,326.5 L59.5,607.3 A20.2,20.2 0 0 1 19.1,607.3 Z" fill="url(#gbox)" stroke="#17a34a" stroke-width="5.4"/>
<text transform="translate(47.20,576.00) rotate(-90)" font-size="24.0" font-weight="bold" fill="#111" stroke="#111" stroke-width="0.70" text-anchor="start" textLength="237.4" lengthAdjust="spacingAndGlyphs">249 – BUSTO ARSIZIO</text>
<circle cx="39.1" cy="606.9" r="17.9" fill="url(#gcirc)" stroke="#111" stroke-width="1.9"/>
<path d="M1220.2,386.5 Q1220.2,382.1 1224.6,382.1 L1256.6,382.1 Q1261,382.1 1261,386.5 L1261,582.4 A20.4,20.4 0 0 1 1220.2,582.4 Z" fill="url(#rbox)" stroke="#ee0a1f" stroke-width="5.4"/>
<text transform="translate(1247.90,551.00) rotate(-90)" font-size="24.0" font-weight="bold" fill="#111" stroke="#111" stroke-width="0.70" text-anchor="start" textLength="152.4" lengthAdjust="spacingAndGlyphs">377 – VARESE</text>
<circle cx="1241" cy="581.8" r="17.7" fill="url(#rcirc)" stroke="#111" stroke-width="1.9"/>
<g fill="none" stroke="#fff" stroke-width="1.8"><circle cx="29.8" cy="612" r="4.7"/><circle cx="48.2" cy="612" r="4.7"/><path d="M29.8,612 L35.5,605 L43.5,605.5 L48.2,612 M35.5,605 L38.5,612 L29.8,612 M38.5,612 L43.5,605.5" stroke-width="1.5"/></g>
<path d="M31.4,598 C31.6,596.4 32.8,595.6 34.6,595.6 L41.2,595.2 C42.6,595.2 43.8,596.2 44.2,597.4 L46.6,603 L45.2,603.8 L43,600.4 L40.6,602.6 L41.6,606.8 L40.4,611.6 L38,611.2 L38.6,606.6 L36,604.2 C33.4,603.8 31.2,601.6 31.4,598 Z" fill="#fff"/><circle cx="44.4" cy="596.6" r="2.5" fill="#fff"/>
<g fill="none" stroke="#fff" stroke-width="1.8"><circle cx="1231.6" cy="590.6" r="4.7"/><circle cx="1249.8" cy="590.6" r="4.7"/><path d="M1231.6,590.6 L1237,584 L1245,584.5 L1249.8,590.6 M1237,584 L1240,590.6 L1231.6,590.6 M1240,590.6 L1245,584.5" stroke-width="1.5"/></g>
<g fill="none" stroke="#fff" stroke-linecap="round" stroke-linejoin="round"><path d="M1239.6,564 L1239.4,572" stroke-width="2"/><path d="M1239.8,572.5 L1238.6,581.5" stroke-width="5"/><path d="M1238.8,581 L1241.6,585.5 L1240.2,590.4" stroke-width="2.6"/><path d="M1240.6,574.5 L1244.2,577.2 L1246,584" stroke-width="1.7"/></g><circle cx="1241.2" cy="569.6" r="2.3" fill="#fff"/>
<text x="1056" y="800.2" font-size="14.4" fill="#666" textLength="70.3" lengthAdjust="spacingAndGlyphs">Powered by</text>
<polygon points="1135.7,786.5 1154,786.5 1144.85,806" fill="#e30a2b"/>
<text x="1144.8" y="798" font-size="9" font-weight="bold" fill="#fff" text-anchor="middle">1</text>
<text x="1156.8" y="800.9" font-size="15.8" fill="#1e1e1e" textLength="117.8" lengthAdjust="spacingAndGlyphs">La Flamme<tspan stroke="#1e1e1e" stroke-width="0.55">Rouge</tspan></text>
</svg></body></html>
